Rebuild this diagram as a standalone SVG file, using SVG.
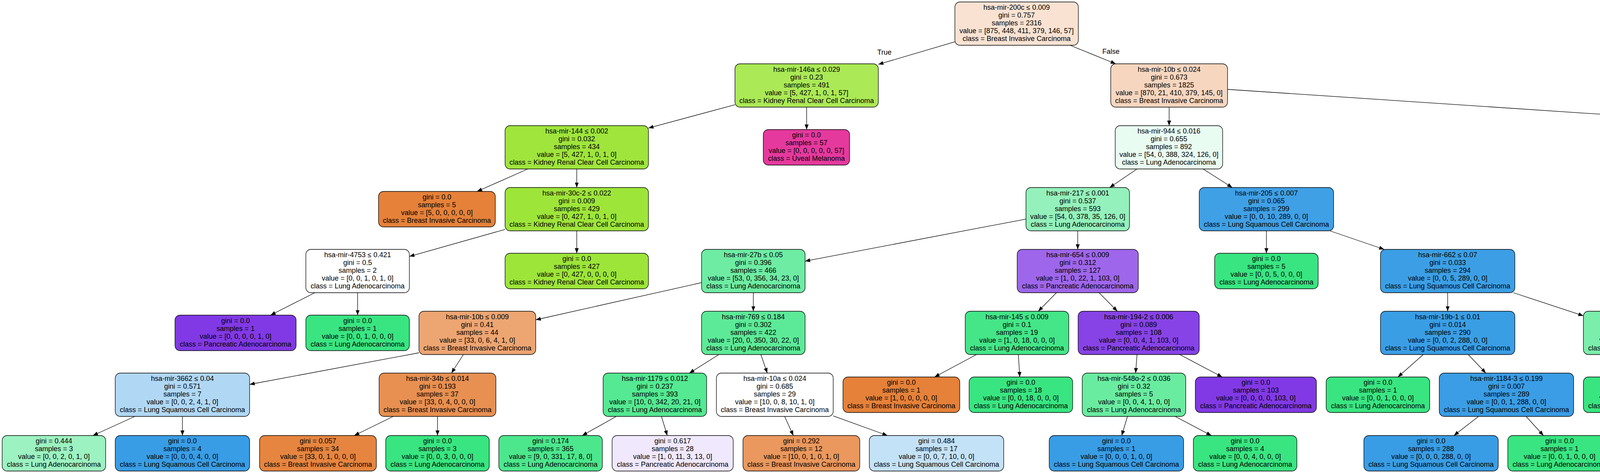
<svg xmlns="http://www.w3.org/2000/svg" width="7587" height="1212" viewBox="0 0 7587 1212">
<style>
text{font-family:"Liberation Sans",Arial,Helvetica,sans-serif;font-size:18px;text-anchor:middle;fill:#000}
.nodes rect{stroke:#000;stroke-width:1.3}
.edges line{stroke:#000;stroke-width:1.3;fill:none;marker-end:url(#ah)}
</style>
<defs>
<marker id="ah" viewBox="0 0 14 11" markerWidth="14" markerHeight="11" refX="13" refY="5" orient="auto" markerUnits="userSpaceOnUse"><path d="M0,0 L13,5 L0,10 Z" fill="#000"/></marker>
</defs>
<rect x="0" y="0" width="7587" height="1212" fill="#fff"/>
<g id="edges" class="edges">
<line x1="2444.5" y1="107.1" x2="2248.5" y2="164.9"/>
<line x1="2739.3" y1="116" x2="2856.2" y2="163.5"/>
<line x1="1881.5" y1="268.4" x2="1660" y2="328.1"/>
<line x1="2065" y1="274.5" x2="2065" y2="332"/>
<line x1="1351.1" y1="433" x2="1221.3" y2="490.5"/>
<line x1="1476.5" y1="433" x2="1476.5" y2="480.5"/>
<line x1="1293" y1="587.8" x2="1048" y2="657.1"/>
<line x1="1476.5" y1="591.5" x2="1476.5" y2="649"/>
<line x1="806.1" y1="750" x2="692.7" y2="807.5"/>
<line x1="915.5" y1="750" x2="915.5" y2="807.5"/>
<line x1="2993" y1="274.5" x2="2993" y2="322"/>
<line x1="3142.5" y1="229" x2="5221" y2="367.5"/>
<line x1="2910.7" y1="433" x2="2840.8" y2="480.5"/>
<line x1="3079.9" y1="433" x2="3154.6" y2="480.5"/>
<line x1="2626.5" y1="561.3" x2="2061" y2="669.2"/>
<line x1="2759" y1="591.5" x2="2759" y2="639"/>
<line x1="1796" y1="724.2" x2="1371.5" y2="819.5"/>
<line x1="1928.5" y1="750" x2="1928.5" y2="797.5"/>
<line x1="1072.5" y1="904" x2="639" y2="985"/>
<line x1="1186.3" y1="908.5" x2="1155.7" y2="956"/>
<line x1="345.3" y1="1067" x2="237.8" y2="1116"/>
<line x1="467" y1="1067" x2="467" y2="1116"/>
<line x1="1006.8" y1="1067" x2="906.8" y2="1116"/>
<line x1="1120" y1="1067" x2="1120" y2="1116"/>
<line x1="1840.2" y1="908.5" x2="1764.8" y2="956"/>
<line x1="1947.8" y1="908.5" x2="1964.2" y2="956"/>
<line x1="1577.7" y1="1067" x2="1490.5" y2="1116"/>
<line x1="1693.3" y1="1067" x2="1708.2" y2="1116"/>
<line x1="2008.7" y1="1067" x2="2030.9" y2="1116"/>
<line x1="2133" y1="1065.7" x2="2271.9" y2="1116"/>
<line x1="2704.5" y1="750" x2="2658" y2="797.5"/>
<line x1="2813.6" y1="750" x2="2860.4" y2="797.5"/>
<line x1="2499.8" y1="908.5" x2="2392.5" y2="966"/>
<line x1="2607" y1="908.5" x2="2610.6" y2="966"/>
<line x1="2910.8" y1="908.5" x2="2907.2" y2="956"/>
<line x1="3020.1" y1="908.5" x2="3128.9" y2="966"/>
<line x1="2886.3" y1="1067" x2="2871.6" y2="1116"/>
<line x1="3008.3" y1="1067" x2="3101.2" y2="1116"/>
<line x1="3242" y1="591.5" x2="3242" y2="649"/>
<line x1="3404.5" y1="591.5" x2="3543.5" y2="639"/>
<line x1="3706" y1="750" x2="3706" y2="797.5"/>
<line x1="3874.1" y1="750" x2="4053.5" y2="809.2"/>
<line x1="3643.5" y1="908.5" x2="3578.7" y2="966"/>
<line x1="3758.7" y1="908.5" x2="3803.8" y2="956"/>
<line x1="3785.1" y1="1067" x2="3722" y2="1116"/>
<line x1="3906.8" y1="1067" x2="3951.3" y2="1116"/>
<line x1="4186" y1="908.5" x2="4186" y2="966"/>
<line x1="4301.4" y1="908.5" x2="4420.9" y2="966"/>
<line x1="5370.5" y1="433" x2="5370.5" y2="480.5"/>
<line x1="5520" y1="397.2" x2="6404.5" y2="513.4"/>
<line x1="5307.8" y1="591.5" x2="5254.2" y2="639"/>
<line x1="5456.5" y1="591.5" x2="5530" y2="639"/>
<line x1="5064" y1="750" x2="4932" y2="807.5"/>
<line x1="5191.5" y1="750" x2="5191.5" y2="797.5"/>
<line x1="5076.1" y1="908.5" x2="4977.4" y2="956"/>
<line x1="5191.5" y1="908.5" x2="5191.5" y2="966"/>
<line x1="4754" y1="1067" x2="4658.6" y2="1116"/>
<line x1="4867.4" y1="1067" x2="4872.1" y2="1116"/>
<line x1="5616" y1="750" x2="5616" y2="797.5"/>
<line x1="5765.5" y1="746.2" x2="5919" y2="799.4"/>
<line x1="5576.4" y1="908.5" x2="5542.6" y2="956"/>
<line x1="5683.9" y1="908.5" x2="5742.1" y2="956"/>
<line x1="6096.8" y1="908.5" x2="6120.3" y2="966"/>
<line x1="6229" y1="904.6" x2="6417.5" y2="967.4"/>
<line x1="5389.8" y1="1067" x2="5289.8" y2="1116"/>
<line x1="5503" y1="1067" x2="5503" y2="1116"/>
<line x1="5810" y1="1067" x2="5810" y2="1116"/>
<line x1="5942.6" y1="1067" x2="6059.8" y2="1116"/>
<line x1="6550" y1="1067" x2="6550" y2="1116"/>
<line x1="6671.7" y1="1067" x2="6779.2" y2="1116"/>
<line x1="6577" y1="591.5" x2="6577" y2="639"/>
<line x1="6748.5" y1="586.2" x2="6947.5" y2="644.3"/>
<line x1="6516.1" y1="750" x2="6453" y2="807.5"/>
<line x1="6637.6" y1="750" x2="6700.3" y2="807.5"/>
<line x1="7119.5" y1="750" x2="7119.5" y2="807.5"/>
<line x1="7234.7" y1="750" x2="7354" y2="807.5"/>
<text x="2264" y="140">True</text>
<text x="2844" y="138">False</text>
</g>
<g id="nodes" class="nodes">
<g id="n0" transform="translate(2602.5,5)"><rect x="-158" y="0" width="316" height="111" rx="13" fill="#f9e2d2"/><text><tspan x="0" y="20">hsa-mir-200c ≤ 0.009</tspan><tspan x="0" y="40">gini = 0.757</tspan><tspan x="0" y="60">samples = 2316</tspan><tspan x="0" y="80">value = [875, 448, 411, 379, 146, 57]</tspan><tspan x="0" y="100">class = Breast Invasive Carcinoma</tspan></text></g>
<g id="n1" transform="translate(2065,163.5)"><rect x="-183.5" y="0" width="367" height="111" rx="13" fill="#abe956"/><text><tspan x="0" y="20">hsa-mir-146a ≤ 0.029</tspan><tspan x="0" y="40">gini = 0.23</tspan><tspan x="0" y="60">samples = 491</tspan><tspan x="0" y="80">value = [5, 427, 1, 0, 1, 57]</tspan><tspan x="0" y="100">class = Kidney Renal Clear Cell Carcinoma</tspan></text></g>
<g id="n2" transform="translate(2993,163.5)"><rect x="-149.5" y="0" width="299" height="111" rx="13" fill="#f7d6bf"/><text><tspan x="0" y="20">hsa-mir-10b ≤ 0.024</tspan><tspan x="0" y="40">gini = 0.673</tspan><tspan x="0" y="60">samples = 1825</tspan><tspan x="0" y="80">value = [870, 21, 410, 379, 145, 0]</tspan><tspan x="0" y="100">class = Breast Invasive Carcinoma</tspan></text></g>
<g id="n3" transform="translate(1476.5,322)"><rect x="-183.5" y="0" width="367" height="111" rx="13" fill="#9fe53c"/><text><tspan x="0" y="20">hsa-mir-144 ≤ 0.002</tspan><tspan x="0" y="40">gini = 0.032</tspan><tspan x="0" y="60">samples = 434</tspan><tspan x="0" y="80">value = [5, 427, 1, 0, 1, 0]</tspan><tspan x="0" y="100">class = Kidney Renal Clear Cell Carcinoma</tspan></text></g>
<g id="n4" transform="translate(2064.5,332)"><rect x="-110.5" y="0" width="221" height="91" rx="13" fill="#e5399d"/><text><tspan x="0" y="20">gini = 0.0</tspan><tspan x="0" y="40">samples = 57</tspan><tspan x="0" y="60">value = [0, 0, 0, 0, 0, 57]</tspan><tspan x="0" y="80">class = Uveal Melanoma</tspan></text></g>
<g id="n5" transform="translate(2992.5,322)"><rect x="-137.5" y="0" width="275" height="111" rx="13" fill="#e9fcf1"/><text><tspan x="0" y="20">hsa-mir-944 ≤ 0.016</tspan><tspan x="0" y="40">gini = 0.655</tspan><tspan x="0" y="60">samples = 892</tspan><tspan x="0" y="80">value = [54, 0, 388, 324, 126, 0]</tspan><tspan x="0" y="100">class = Lung Adenocarcinoma</tspan></text></g>
<g id="n6" transform="translate(5370.5,322)"><rect x="-149.5" y="0" width="299" height="111" rx="13" fill="#e89253"/><text><tspan x="0" y="20">hsa-mir-944 ≤ 0.017</tspan><tspan x="0" y="40">gini = 0.23</tspan><tspan x="0" y="60">samples = 933</tspan><tspan x="0" y="80">value = [816, 21, 22, 55, 19, 0]</tspan><tspan x="0" y="100">class = Breast Invasive Carcinoma</tspan></text></g>
<g id="n7" transform="translate(1118.5,490.5)"><rect x="-149.5" y="0" width="299" height="91" rx="13" fill="#e58139"/><text><tspan x="0" y="20">gini = 0.0</tspan><tspan x="0" y="40">samples = 5</tspan><tspan x="0" y="60">value = [5, 0, 0, 0, 0, 0]</tspan><tspan x="0" y="80">class = Breast Invasive Carcinoma</tspan></text></g>
<g id="n8" transform="translate(1476.5,480.5)"><rect x="-183.5" y="0" width="367" height="111" rx="13" fill="#9ee53a"/><text><tspan x="0" y="20">hsa-mir-30c-2 ≤ 0.022</tspan><tspan x="0" y="40">gini = 0.009</tspan><tspan x="0" y="60">samples = 429</tspan><tspan x="0" y="80">value = [0, 427, 1, 0, 1, 0]</tspan><tspan x="0" y="100">class = Kidney Renal Clear Cell Carcinoma</tspan></text></g>
<g id="n9" transform="translate(2759,480.5)"><rect x="-132.5" y="0" width="265" height="111" rx="13" fill="#94f1bb"/><text><tspan x="0" y="20">hsa-mir-217 ≤ 0.001</tspan><tspan x="0" y="40">gini = 0.537</tspan><tspan x="0" y="60">samples = 593</tspan><tspan x="0" y="80">value = [54, 0, 378, 35, 126, 0]</tspan><tspan x="0" y="100">class = Lung Adenocarcinoma</tspan></text></g>
<g id="n10" transform="translate(3242,480.5)"><rect x="-172" y="0" width="344" height="111" rx="13" fill="#40a0e6"/><text><tspan x="0" y="20">hsa-mir-205 ≤ 0.007</tspan><tspan x="0" y="40">gini = 0.065</tspan><tspan x="0" y="60">samples = 299</tspan><tspan x="0" y="80">value = [0, 0, 10, 289, 0, 0]</tspan><tspan x="0" y="100">class = Lung Squamous Cell Carcinoma</tspan></text></g>
<g id="n11" transform="translate(5370.5,480.5)"><rect x="-149.5" y="0" width="299" height="111" rx="13" fill="#e78b49"/><text><tspan x="0" y="20">hsa-mir-205 ≤ 0.0</tspan><tspan x="0" y="40">gini = 0.147</tspan><tspan x="0" y="60">samples = 881</tspan><tspan x="0" y="80">value = [813, 21, 21, 7, 19, 0]</tspan><tspan x="0" y="100">class = Breast Invasive Carcinoma</tspan></text></g>
<g id="n12" transform="translate(6576.5,480.5)"><rect x="-172" y="0" width="344" height="111" rx="13" fill="#49a5e7"/><text><tspan x="0" y="20">hsa-mir-582 ≤ 0.009</tspan><tspan x="0" y="40">gini = 0.144</tspan><tspan x="0" y="60">samples = 52</tspan><tspan x="0" y="80">value = [3, 0, 1, 48, 0, 0]</tspan><tspan x="0" y="100">class = Lung Squamous Cell Carcinoma</tspan></text></g>
<g id="n13" transform="translate(915.5,639)"><rect x="-132.5" y="0" width="265" height="111" rx="13" fill="#ffffff"/><text><tspan x="0" y="20">hsa-mir-4753 ≤ 0.421</tspan><tspan x="0" y="40">gini = 0.5</tspan><tspan x="0" y="60">samples = 2</tspan><tspan x="0" y="80">value = [0, 0, 1, 0, 1, 0]</tspan><tspan x="0" y="100">class = Lung Adenocarcinoma</tspan></text></g>
<g id="n14" transform="translate(1476.5,649)"><rect x="-183.5" y="0" width="367" height="91" rx="13" fill="#9de539"/><text><tspan x="0" y="20">gini = 0.0</tspan><tspan x="0" y="40">samples = 427</tspan><tspan x="0" y="60">value = [0, 427, 0, 0, 0, 0]</tspan><tspan x="0" y="80">class = Kidney Renal Clear Cell Carcinoma</tspan></text></g>
<g id="n15" transform="translate(1928.5,639)"><rect x="-132.5" y="0" width="265" height="111" rx="13" fill="#6eeca3"/><text><tspan x="0" y="20">hsa-mir-27b ≤ 0.05</tspan><tspan x="0" y="40">gini = 0.396</tspan><tspan x="0" y="60">samples = 466</tspan><tspan x="0" y="80">value = [53, 0, 356, 34, 23, 0]</tspan><tspan x="0" y="100">class = Lung Adenocarcinoma</tspan></text></g>
<g id="n16" transform="translate(2759,639)"><rect x="-155" y="0" width="310" height="111" rx="13" fill="#9e66eb"/><text><tspan x="0" y="20">hsa-mir-654 ≤ 0.009</tspan><tspan x="0" y="40">gini = 0.312</tspan><tspan x="0" y="60">samples = 127</tspan><tspan x="0" y="80">value = [1, 0, 22, 1, 103, 0]</tspan><tspan x="0" y="100">class = Pancreatic Adenocarcinoma</tspan></text></g>
<g id="n17" transform="translate(3242,649)"><rect x="-132.5" y="0" width="265" height="91" rx="13" fill="#39e581"/><text><tspan x="0" y="20">gini = 0.0</tspan><tspan x="0" y="40">samples = 5</tspan><tspan x="0" y="60">value = [0, 0, 5, 0, 0, 0]</tspan><tspan x="0" y="80">class = Lung Adenocarcinoma</tspan></text></g>
<g id="n18" transform="translate(3706,639)"><rect x="-172" y="0" width="344" height="111" rx="13" fill="#3c9fe5"/><text><tspan x="0" y="20">hsa-mir-662 ≤ 0.07</tspan><tspan x="0" y="40">gini = 0.033</tspan><tspan x="0" y="60">samples = 294</tspan><tspan x="0" y="80">value = [0, 0, 5, 289, 0, 0]</tspan><tspan x="0" y="100">class = Lung Squamous Cell Carcinoma</tspan></text></g>
<g id="n19" transform="translate(5191.5,639)"><rect x="-183.5" y="0" width="367" height="111" rx="13" fill="#e4f8c8"/><text><tspan x="0" y="20">hsa-mir-3065 ≤ 0.003</tspan><tspan x="0" y="40">gini = 0.688</tspan><tspan x="0" y="60">samples = 39</tspan><tspan x="0" y="80">value = [5, 18, 5, 1, 10, 0]</tspan><tspan x="0" y="100">class = Kidney Renal Clear Cell Carcinoma</tspan></text></g>
<g id="n20" transform="translate(5616,639)"><rect x="-149.5" y="0" width="299" height="111" rx="13" fill="#e68641"/><text><tspan x="0" y="20">hsa-mir-194-2 ≤ 0.033</tspan><tspan x="0" y="40">gini = 0.079</tspan><tspan x="0" y="60">samples = 842</tspan><tspan x="0" y="80">value = [808, 3, 16, 6, 9, 0]</tspan><tspan x="0" y="100">class = Breast Invasive Carcinoma</tspan></text></g>
<g id="n21" transform="translate(6577,639)"><rect x="-149.5" y="0" width="299" height="111" rx="13" fill="#eeab7b"/><text><tspan x="0" y="20">hsa-mir-6854 ≤ 0.102</tspan><tspan x="0" y="40">gini = 0.375</tspan><tspan x="0" y="60">samples = 4</tspan><tspan x="0" y="80">value = [3, 0, 0, 1, 0, 0]</tspan><tspan x="0" y="100">class = Breast Invasive Carcinoma</tspan></text></g>
<g id="n22" transform="translate(7119.5,639)"><rect x="-172" y="0" width="344" height="111" rx="13" fill="#3d9fe6"/><text><tspan x="0" y="20">hsa-mir-25 ≤ 0.423</tspan><tspan x="0" y="40">gini = 0.041</tspan><tspan x="0" y="60">samples = 48</tspan><tspan x="0" y="80">value = [0, 0, 1, 47, 0, 0]</tspan><tspan x="0" y="100">class = Lung Squamous Cell Carcinoma</tspan></text></g>
<g id="n23" transform="translate(603,807.5)"><rect x="-155" y="0" width="310" height="91" rx="13" fill="#8139e5"/><text><tspan x="0" y="20">gini = 0.0</tspan><tspan x="0" y="40">samples = 1</tspan><tspan x="0" y="60">value = [0, 0, 0, 0, 1, 0]</tspan><tspan x="0" y="80">class = Pancreatic Adenocarcinoma</tspan></text></g>
<g id="n24" transform="translate(915.5,807.5)"><rect x="-132.5" y="0" width="265" height="91" rx="13" fill="#39e581"/><text><tspan x="0" y="20">gini = 0.0</tspan><tspan x="0" y="40">samples = 1</tspan><tspan x="0" y="60">value = [0, 0, 1, 0, 0, 0]</tspan><tspan x="0" y="80">class = Lung Adenocarcinoma</tspan></text></g>
<g id="n25" transform="translate(1222,797.5)"><rect x="-149.5" y="0" width="299" height="111" rx="13" fill="#eda572"/><text><tspan x="0" y="20">hsa-mir-10b ≤ 0.009</tspan><tspan x="0" y="40">gini = 0.41</tspan><tspan x="0" y="60">samples = 44</tspan><tspan x="0" y="80">value = [33, 0, 6, 4, 1, 0]</tspan><tspan x="0" y="100">class = Breast Invasive Carcinoma</tspan></text></g>
<g id="n26" transform="translate(1928.5,797.5)"><rect x="-132.5" y="0" width="265" height="111" rx="13" fill="#5dea98"/><text><tspan x="0" y="20">hsa-mir-769 ≤ 0.184</tspan><tspan x="0" y="40">gini = 0.302</tspan><tspan x="0" y="60">samples = 422</tspan><tspan x="0" y="80">value = [20, 0, 350, 30, 22, 0]</tspan><tspan x="0" y="100">class = Lung Adenocarcinoma</tspan></text></g>
<g id="n27" transform="translate(2603.5,797.5)"><rect x="-132.5" y="0" width="265" height="111" rx="13" fill="#44e688"/><text><tspan x="0" y="20">hsa-mir-145 ≤ 0.009</tspan><tspan x="0" y="40">gini = 0.1</tspan><tspan x="0" y="60">samples = 19</tspan><tspan x="0" y="80">value = [1, 0, 18, 0, 0, 0]</tspan><tspan x="0" y="100">class = Lung Adenocarcinoma</tspan></text></g>
<g id="n28" transform="translate(2915,797.5)"><rect x="-155" y="0" width="310" height="111" rx="13" fill="#8743e6"/><text><tspan x="0" y="20">hsa-mir-194-2 ≤ 0.006</tspan><tspan x="0" y="40">gini = 0.089</tspan><tspan x="0" y="60">samples = 108</tspan><tspan x="0" y="80">value = [0, 0, 4, 1, 103, 0]</tspan><tspan x="0" y="100">class = Pancreatic Adenocarcinoma</tspan></text></g>
<g id="n29" transform="translate(3706,797.5)"><rect x="-172" y="0" width="344" height="111" rx="13" fill="#3a9ee5"/><text><tspan x="0" y="20">hsa-mir-19b-1 ≤ 0.01</tspan><tspan x="0" y="40">gini = 0.014</tspan><tspan x="0" y="60">samples = 290</tspan><tspan x="0" y="80">value = [0, 0, 2, 288, 0, 0]</tspan><tspan x="0" y="100">class = Lung Squamous Cell Carcinoma</tspan></text></g>
<g id="n30" transform="translate(4186,797.5)"><rect x="-132.5" y="0" width="265" height="111" rx="13" fill="#7beeab"/><text><tspan x="0" y="20">hsa-mir-5697 ≤ 0.181</tspan><tspan x="0" y="40">gini = 0.375</tspan><tspan x="0" y="60">samples = 4</tspan><tspan x="0" y="80">value = [0, 0, 3, 1, 0, 0]</tspan><tspan x="0" y="100">class = Lung Adenocarcinoma</tspan></text></g>
<g id="n31" transform="translate(4827.5,807.5)"><rect x="-183.5" y="0" width="367" height="91" rx="13" fill="#9de539"/><text><tspan x="0" y="20">gini = 0.0</tspan><tspan x="0" y="40">samples = 18</tspan><tspan x="0" y="60">value = [0, 18, 0, 0, 0, 0]</tspan><tspan x="0" y="80">class = Kidney Renal Clear Cell Carcinoma</tspan></text></g>
<g id="n32" transform="translate(5191.5,797.5)"><rect x="-155" y="0" width="310" height="111" rx="13" fill="#d8c1f7"/><text><tspan x="0" y="20">hsa-mir-192 ≤ 0.027</tspan><tspan x="0" y="40">gini = 0.658</tspan><tspan x="0" y="60">samples = 21</tspan><tspan x="0" y="80">value = [5, 0, 5, 1, 10, 0]</tspan><tspan x="0" y="100">class = Pancreatic Adenocarcinoma</tspan></text></g>
<g id="n33" transform="translate(5616,797.5)"><rect x="-149.5" y="0" width="299" height="111" rx="13" fill="#e6843e"/><text><tspan x="0" y="20">hsa-mir-196b ≤ 0.001</tspan><tspan x="0" y="40">gini = 0.05</tspan><tspan x="0" y="60">samples = 829</tspan><tspan x="0" y="80">value = [808, 3, 12, 5, 1, 0]</tspan><tspan x="0" y="100">class = Breast Invasive Carcinoma</tspan></text></g>
<g id="n34" transform="translate(6074,797.5)"><rect x="-155" y="0" width="310" height="111" rx="13" fill="#c7a7f3"/><text><tspan x="0" y="20">hsa-mir-6820 ≤ 0.076</tspan><tspan x="0" y="40">gini = 0.521</tspan><tspan x="0" y="60">samples = 13</tspan><tspan x="0" y="80">value = [0, 0, 4, 1, 8, 0]</tspan><tspan x="0" y="100">class = Pancreatic Adenocarcinoma</tspan></text></g>
<g id="n35" transform="translate(6403,807.5)"><rect x="-149.5" y="0" width="299" height="91" rx="13" fill="#e58139"/><text><tspan x="0" y="20">gini = 0.0</tspan><tspan x="0" y="40">samples = 3</tspan><tspan x="0" y="60">value = [3, 0, 0, 0, 0, 0]</tspan><tspan x="0" y="80">class = Breast Invasive Carcinoma</tspan></text></g>
<g id="n36" transform="translate(6750,807.5)"><rect x="-172" y="0" width="344" height="91" rx="13" fill="#399de5"/><text><tspan x="0" y="20">gini = 0.0</tspan><tspan x="0" y="40">samples = 1</tspan><tspan x="0" y="60">value = [0, 0, 0, 1, 0, 0]</tspan><tspan x="0" y="80">class = Lung Squamous Cell Carcinoma</tspan></text></g>
<g id="n37" transform="translate(7119.5,807.5)"><rect x="-172" y="0" width="344" height="91" rx="13" fill="#399de5"/><text><tspan x="0" y="20">gini = 0.0</tspan><tspan x="0" y="40">samples = 47</tspan><tspan x="0" y="60">value = [0, 0, 0, 47, 0, 0]</tspan><tspan x="0" y="80">class = Lung Squamous Cell Carcinoma</tspan></text></g>
<g id="n38" transform="translate(7448.5,807.5)"><rect x="-132.5" y="0" width="265" height="91" rx="13" fill="#39e581"/><text><tspan x="0" y="20">gini = 0.0</tspan><tspan x="0" y="40">samples = 1</tspan><tspan x="0" y="60">value = [0, 0, 1, 0, 0, 0]</tspan><tspan x="0" y="80">class = Lung Adenocarcinoma</tspan></text></g>
<g id="n39" transform="translate(467,956)"><rect x="-172" y="0" width="344" height="111" rx="13" fill="#b0d8f5"/><text><tspan x="0" y="20">hsa-mir-3662 ≤ 0.04</tspan><tspan x="0" y="40">gini = 0.571</tspan><tspan x="0" y="60">samples = 7</tspan><tspan x="0" y="80">value = [0, 0, 2, 4, 1, 0]</tspan><tspan x="0" y="100">class = Lung Squamous Cell Carcinoma</tspan></text></g>
<g id="n40" transform="translate(1120,956)"><rect x="-149.5" y="0" width="299" height="111" rx="13" fill="#e89051"/><text><tspan x="0" y="20">hsa-mir-34b ≤ 0.014</tspan><tspan x="0" y="40">gini = 0.193</tspan><tspan x="0" y="60">samples = 37</tspan><tspan x="0" y="80">value = [33, 0, 4, 0, 0, 0]</tspan><tspan x="0" y="100">class = Breast Invasive Carcinoma</tspan></text></g>
<g id="n41" transform="translate(1676.5,956)"><rect x="-132.5" y="0" width="265" height="111" rx="13" fill="#54e992"/><text><tspan x="0" y="20">hsa-mir-1179 ≤ 0.012</tspan><tspan x="0" y="40">gini = 0.237</tspan><tspan x="0" y="60">samples = 393</tspan><tspan x="0" y="80">value = [10, 0, 342, 20, 21, 0]</tspan><tspan x="0" y="100">class = Lung Adenocarcinoma</tspan></text></g>
<g id="n42" transform="translate(1983.5,956)"><rect x="-149.5" y="0" width="299" height="111" rx="13" fill="#ffffff"/><text><tspan x="0" y="20">hsa-mir-10a ≤ 0.024</tspan><tspan x="0" y="40">gini = 0.685</tspan><tspan x="0" y="60">samples = 29</tspan><tspan x="0" y="80">value = [10, 0, 8, 10, 1, 0]</tspan><tspan x="0" y="100">class = Breast Invasive Carcinoma</tspan></text></g>
<g id="n43" transform="translate(2307.5,966)"><rect x="-149.5" y="0" width="299" height="91" rx="13" fill="#e58139"/><text><tspan x="0" y="20">gini = 0.0</tspan><tspan x="0" y="40">samples = 1</tspan><tspan x="0" y="60">value = [1, 0, 0, 0, 0, 0]</tspan><tspan x="0" y="80">class = Breast Invasive Carcinoma</tspan></text></g>
<g id="n44" transform="translate(2613.5,966)"><rect x="-132.5" y="0" width="265" height="91" rx="13" fill="#39e581"/><text><tspan x="0" y="20">gini = 0.0</tspan><tspan x="0" y="40">samples = 18</tspan><tspan x="0" y="60">value = [0, 0, 18, 0, 0, 0]</tspan><tspan x="0" y="80">class = Lung Adenocarcinoma</tspan></text></g>
<g id="n45" transform="translate(2903,956)"><rect x="-132.5" y="0" width="265" height="111" rx="13" fill="#6aeca0"/><text><tspan x="0" y="20">hsa-mir-548o-2 ≤ 0.036</tspan><tspan x="0" y="40">gini = 0.32</tspan><tspan x="0" y="60">samples = 5</tspan><tspan x="0" y="80">value = [0, 0, 4, 1, 0, 0]</tspan><tspan x="0" y="100">class = Lung Adenocarcinoma</tspan></text></g>
<g id="n46" transform="translate(3215,966)"><rect x="-155" y="0" width="310" height="91" rx="13" fill="#8139e5"/><text><tspan x="0" y="20">gini = 0.0</tspan><tspan x="0" y="40">samples = 103</tspan><tspan x="0" y="60">value = [0, 0, 0, 0, 103, 0]</tspan><tspan x="0" y="80">class = Pancreatic Adenocarcinoma</tspan></text></g>
<g id="n47" transform="translate(3527.5,966)"><rect x="-132.5" y="0" width="265" height="91" rx="13" fill="#39e581"/><text><tspan x="0" y="20">gini = 0.0</tspan><tspan x="0" y="40">samples = 1</tspan><tspan x="0" y="60">value = [0, 0, 1, 0, 0, 0]</tspan><tspan x="0" y="80">class = Lung Adenocarcinoma</tspan></text></g>
<g id="n48" transform="translate(3856.5,956)"><rect x="-172" y="0" width="344" height="111" rx="13" fill="#3a9de5"/><text><tspan x="0" y="20">hsa-mir-1184-3 ≤ 0.199</tspan><tspan x="0" y="40">gini = 0.007</tspan><tspan x="0" y="60">samples = 289</tspan><tspan x="0" y="80">value = [0, 0, 1, 288, 0, 0]</tspan><tspan x="0" y="100">class = Lung Squamous Cell Carcinoma</tspan></text></g>
<g id="n49" transform="translate(4186,966)"><rect x="-132.5" y="0" width="265" height="91" rx="13" fill="#39e581"/><text><tspan x="0" y="20">gini = 0.0</tspan><tspan x="0" y="40">samples = 3</tspan><tspan x="0" y="60">value = [0, 0, 3, 0, 0, 0]</tspan><tspan x="0" y="80">class = Lung Adenocarcinoma</tspan></text></g>
<g id="n50" transform="translate(4515.5,966)"><rect x="-172" y="0" width="344" height="91" rx="13" fill="#399de5"/><text><tspan x="0" y="20">gini = 0.0</tspan><tspan x="0" y="40">samples = 1</tspan><tspan x="0" y="60">value = [0, 0, 0, 1, 0, 0]</tspan><tspan x="0" y="80">class = Lung Squamous Cell Carcinoma</tspan></text></g>
<g id="n51" transform="translate(4862,956)"><rect x="-149.5" y="0" width="299" height="111" rx="13" fill="#ffffff"/><text><tspan x="0" y="20">hsa-mir-561 ≤ 0.004</tspan><tspan x="0" y="40">gini = 0.579</tspan><tspan x="0" y="60">samples = 11</tspan><tspan x="0" y="80">value = [5, 0, 5, 1, 0, 0]</tspan><tspan x="0" y="100">class = Breast Invasive Carcinoma</tspan></text></g>
<g id="n52" transform="translate(5191.5,966)"><rect x="-155" y="0" width="310" height="91" rx="13" fill="#8139e5"/><text><tspan x="0" y="20">gini = 0.0</tspan><tspan x="0" y="40">samples = 10</tspan><tspan x="0" y="60">value = [0, 0, 0, 0, 10, 0]</tspan><tspan x="0" y="80">class = Pancreatic Adenocarcinoma</tspan></text></g>
<g id="n53" transform="translate(5503,956)"><rect x="-132.5" y="0" width="265" height="111" rx="13" fill="#cef8e0"/><text><tspan x="0" y="20">hsa-mir-5571 ≤ 0.041</tspan><tspan x="0" y="40">gini = 0.556</tspan><tspan x="0" y="60">samples = 13</tspan><tspan x="0" y="80">value = [5, 0, 7, 0, 1, 0]</tspan><tspan x="0" y="100">class = Lung Adenocarcinoma</tspan></text></g>
<g id="n54" transform="translate(5810,956)"><rect x="-149.5" y="0" width="299" height="111" rx="13" fill="#e5833c"/><text><tspan x="0" y="20">hsa-mir-888 ≤ 0.003</tspan><tspan x="0" y="40">gini = 0.032</tspan><tspan x="0" y="60">samples = 816</tspan><tspan x="0" y="80">value = [803, 3, 5, 5, 0, 0]</tspan><tspan x="0" y="100">class = Breast Invasive Carcinoma</tspan></text></g>
<g id="n55" transform="translate(6139,966)"><rect x="-155" y="0" width="310" height="91" rx="13" fill="#8139e5"/><text><tspan x="0" y="20">gini = 0.0</tspan><tspan x="0" y="40">samples = 8</tspan><tspan x="0" y="60">value = [0, 0, 0, 0, 8, 0]</tspan><tspan x="0" y="80">class = Pancreatic Adenocarcinoma</tspan></text></g>
<g id="n56" transform="translate(6550,956)"><rect x="-132.5" y="0" width="265" height="111" rx="13" fill="#6aeca0"/><text><tspan x="0" y="20">hsa-mir-3920 ≤ 0.005</tspan><tspan x="0" y="40">gini = 0.32</tspan><tspan x="0" y="60">samples = 5</tspan><tspan x="0" y="80">value = [0, 0, 4, 1, 0, 0]</tspan><tspan x="0" y="100">class = Lung Adenocarcinoma</tspan></text></g>
<g id="n57" transform="translate(138,1116)"><rect x="-132.5" y="0" width="265" height="91" rx="13" fill="#9cf2c0"/><text><tspan x="0" y="20">gini = 0.444</tspan><tspan x="0" y="40">samples = 3</tspan><tspan x="0" y="60">value = [0, 0, 2, 0, 1, 0]</tspan><tspan x="0" y="80">class = Lung Adenocarcinoma</tspan></text></g>
<g id="n58" transform="translate(467,1116)"><rect x="-172" y="0" width="344" height="91" rx="13" fill="#399de5"/><text><tspan x="0" y="20">gini = 0.0</tspan><tspan x="0" y="40">samples = 4</tspan><tspan x="0" y="60">value = [0, 0, 0, 4, 0, 0]</tspan><tspan x="0" y="80">class = Lung Squamous Cell Carcinoma</tspan></text></g>
<g id="n59" transform="translate(814,1116)"><rect x="-149.5" y="0" width="299" height="91" rx="13" fill="#e6853f"/><text><tspan x="0" y="20">gini = 0.057</tspan><tspan x="0" y="40">samples = 34</tspan><tspan x="0" y="60">value = [33, 0, 1, 0, 0, 0]</tspan><tspan x="0" y="80">class = Breast Invasive Carcinoma</tspan></text></g>
<g id="n60" transform="translate(1120,1116)"><rect x="-132.5" y="0" width="265" height="91" rx="13" fill="#39e581"/><text><tspan x="0" y="20">gini = 0.0</tspan><tspan x="0" y="40">samples = 3</tspan><tspan x="0" y="60">value = [0, 0, 3, 0, 0, 0]</tspan><tspan x="0" y="80">class = Lung Adenocarcinoma</tspan></text></g>
<g id="n61" transform="translate(1409.5,1116)"><rect x="-132.5" y="0" width="265" height="91" rx="13" fill="#4ce78d"/><text><tspan x="0" y="20">gini = 0.174</tspan><tspan x="0" y="40">samples = 365</tspan><tspan x="0" y="60">value = [9, 0, 331, 17, 8, 0]</tspan><tspan x="0" y="80">class = Lung Adenocarcinoma</tspan></text></g>
<g id="n62" transform="translate(1722,1116)"><rect x="-155" y="0" width="310" height="91" rx="13" fill="#f0e8fc"/><text><tspan x="0" y="20">gini = 0.617</tspan><tspan x="0" y="40">samples = 28</tspan><tspan x="0" y="60">value = [1, 0, 11, 3, 13, 0]</tspan><tspan x="0" y="80">class = Pancreatic Adenocarcinoma</tspan></text></g>
<g id="n63" transform="translate(2051.5,1116)"><rect x="-149.5" y="0" width="299" height="91" rx="13" fill="#ea985d"/><text><tspan x="0" y="20">gini = 0.292</tspan><tspan x="0" y="40">samples = 12</tspan><tspan x="0" y="60">value = [10, 0, 1, 0, 1, 0]</tspan><tspan x="0" y="80">class = Breast Invasive Carcinoma</tspan></text></g>
<g id="n64" transform="translate(2397.5,1116)"><rect x="-172" y="0" width="344" height="91" rx="13" fill="#c4e2f7"/><text><tspan x="0" y="20">gini = 0.484</tspan><tspan x="0" y="40">samples = 17</tspan><tspan x="0" y="60">value = [0, 0, 7, 10, 0, 0]</tspan><tspan x="0" y="80">class = Lung Squamous Cell Carcinoma</tspan></text></g>
<g id="n65" transform="translate(2858,1116)"><rect x="-172" y="0" width="344" height="91" rx="13" fill="#399de5"/><text><tspan x="0" y="20">gini = 0.0</tspan><tspan x="0" y="40">samples = 1</tspan><tspan x="0" y="60">value = [0, 0, 0, 1, 0, 0]</tspan><tspan x="0" y="80">class = Lung Squamous Cell Carcinoma</tspan></text></g>
<g id="n66" transform="translate(3187.5,1116)"><rect x="-132.5" y="0" width="265" height="91" rx="13" fill="#39e581"/><text><tspan x="0" y="20">gini = 0.0</tspan><tspan x="0" y="40">samples = 4</tspan><tspan x="0" y="60">value = [0, 0, 4, 0, 0, 0]</tspan><tspan x="0" y="80">class = Lung Adenocarcinoma</tspan></text></g>
<g id="n67" transform="translate(3663.5,1116)"><rect x="-172" y="0" width="344" height="91" rx="13" fill="#399de5"/><text><tspan x="0" y="20">gini = 0.0</tspan><tspan x="0" y="40">samples = 288</tspan><tspan x="0" y="60">value = [0, 0, 0, 288, 0, 0]</tspan><tspan x="0" y="80">class = Lung Squamous Cell Carcinoma</tspan></text></g>
<g id="n68" transform="translate(3992.5,1116)"><rect x="-132.5" y="0" width="265" height="91" rx="13" fill="#39e581"/><text><tspan x="0" y="20">gini = 0.0</tspan><tspan x="0" y="40">samples = 1</tspan><tspan x="0" y="60">value = [0, 0, 1, 0, 0, 0]</tspan><tspan x="0" y="80">class = Lung Adenocarcinoma</tspan></text></g>
<g id="n69" transform="translate(4570,1116)"><rect x="-149.5" y="0" width="299" height="91" rx="13" fill="#ea9a61"/><text><tspan x="0" y="20">gini = 0.278</tspan><tspan x="0" y="40">samples = 6</tspan><tspan x="0" y="60">value = [5, 0, 0, 1, 0, 0]</tspan><tspan x="0" y="80">class = Breast Invasive Carcinoma</tspan></text></g>
<g id="n70" transform="translate(4876.5,1116)"><rect x="-132.5" y="0" width="265" height="91" rx="13" fill="#39e581"/><text><tspan x="0" y="20">gini = 0.0</tspan><tspan x="0" y="40">samples = 5</tspan><tspan x="0" y="60">value = [0, 0, 5, 0, 0, 0]</tspan><tspan x="0" y="80">class = Lung Adenocarcinoma</tspan></text></g>
<g id="n71" transform="translate(5197,1116)"><rect x="-149.5" y="0" width="299" height="91" rx="13" fill="#ea9a61"/><text><tspan x="0" y="20">gini = 0.278</tspan><tspan x="0" y="40">samples = 6</tspan><tspan x="0" y="60">value = [5, 0, 0, 0, 1, 0]</tspan><tspan x="0" y="80">class = Breast Invasive Carcinoma</tspan></text></g>
<g id="n72" transform="translate(5503,1116)"><rect x="-132.5" y="0" width="265" height="91" rx="13" fill="#39e581"/><text><tspan x="0" y="20">gini = 0.0</tspan><tspan x="0" y="40">samples = 7</tspan><tspan x="0" y="60">value = [0, 0, 7, 0, 0, 0]</tspan><tspan x="0" y="80">class = Lung Adenocarcinoma</tspan></text></g>
<g id="n73" transform="translate(5810,1116)"><rect x="-149.5" y="0" width="299" height="91" rx="13" fill="#e5823b"/><text><tspan x="0" y="20">gini = 0.02</tspan><tspan x="0" y="40">samples = 811</tspan><tspan x="0" y="60">value = [803, 1, 3, 4, 0, 0]</tspan><tspan x="0" y="80">class = Breast Invasive Carcinoma</tspan></text></g>
<g id="n74" transform="translate(6168.5,1116)"><rect x="-183.5" y="0" width="367" height="91" rx="13" fill="#ffffff"/><text><tspan x="0" y="20">gini = 0.64</tspan><tspan x="0" y="40">samples = 5</tspan><tspan x="0" y="60">value = [0, 2, 2, 1, 0, 0]</tspan><tspan x="0" y="80">class = Kidney Renal Clear Cell Carcinoma</tspan></text></g>
<g id="n75" transform="translate(6550.5,1116)"><rect x="-172" y="0" width="344" height="91" rx="13" fill="#399de5"/><text><tspan x="0" y="20">gini = 0.0</tspan><tspan x="0" y="40">samples = 1</tspan><tspan x="0" y="60">value = [0, 0, 0, 1, 0, 0]</tspan><tspan x="0" y="80">class = Lung Squamous Cell Carcinoma</tspan></text></g>
<g id="n76" transform="translate(6879,1116)"><rect x="-132.5" y="0" width="265" height="91" rx="13" fill="#39e581"/><text><tspan x="0" y="20">gini = 0.0</tspan><tspan x="0" y="40">samples = 4</tspan><tspan x="0" y="60">value = [0, 0, 4, 0, 0, 0]</tspan><tspan x="0" y="80">class = Lung Adenocarcinoma</tspan></text></g>
</g>
</svg>
